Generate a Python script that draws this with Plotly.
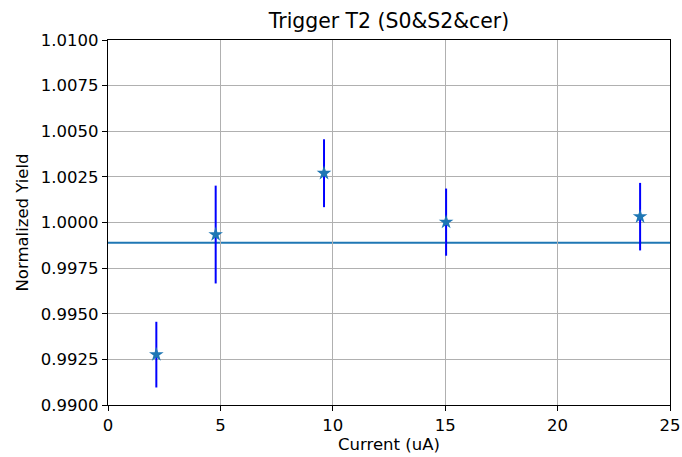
import plotly.graph_objects as go

current = [2.15, 4.79, 9.61, 15.04, 23.67]
yield_norm = [0.99276, 0.99934, 1.00270, 1.00002, 1.00032]
yield_err = [0.00180, 0.00268, 0.00186, 0.00184, 0.00185]
fit_value = 0.99889

x_ticks = [0, 5, 10, 15, 20, 25]
y_ticks = [0.9900, 0.9925, 0.9950, 0.9975, 1.0000, 1.0025, 1.0050, 1.0075, 1.0100]

W, H = 682, 457

fig = go.Figure()
fig.add_hline(y=fit_value, line=dict(color="#1f77b4", width=2), layer="below")
fig.add_trace(go.Scatter(
    x=current, y=yield_norm, mode="markers",
    marker=dict(symbol="star", size=11, color="#1f77b4", line=dict(width=0)),
    error_y=dict(type="data", array=yield_err, visible=True, color="#0000ff", thickness=2, width=0),
    showlegend=False,
))

font = dict(family="DejaVu Sans", size=16.5, color="black")
fig.update_layout(
    width=W, height=H,
    margin=dict(l=108, r=12, t=40, b=52),
    paper_bgcolor="white", plot_bgcolor="white",
    title=dict(text="Trigger T2 (S0&S2&cer)", x=0.5, xanchor="center", y=1 - 21/H, yanchor="middle",
               xref="paper", yref="container", font=dict(family="DejaVu Sans", size=20.4, color="black")),
    font=font,
)
fig.update_xaxes(range=[0, 25], tickvals=x_ticks, ticktext=[str(v) for v in x_ticks],
                 showgrid=True, gridcolor="#b0b0b0", gridwidth=1,
                 showline=True, linecolor="black", linewidth=1.2, mirror=True,
                 ticks="outside", ticklen=5, tickcolor="black", zeroline=False, automargin=False,
                 title=dict(text="Current (uA)", font=font, standoff=4))
fig.update_yaxes(range=[0.99, 1.01], tickvals=y_ticks, ticktext=[f"{v:.4f}" for v in y_ticks],
                 showgrid=True, gridcolor="#b0b0b0", gridwidth=1,
                 showline=True, linecolor="black", linewidth=1.2, mirror=True,
                 ticks="outside", ticklen=5, tickcolor="black", zeroline=False, automargin=False,
                 title=dict(text="Normalized Yield", font=font, standoff=8))
fig.write_html("out.html", config={"displayModeBar": False},
               post_script="document.body.style.margin='0px';document.body.style.overflow='hidden';")
